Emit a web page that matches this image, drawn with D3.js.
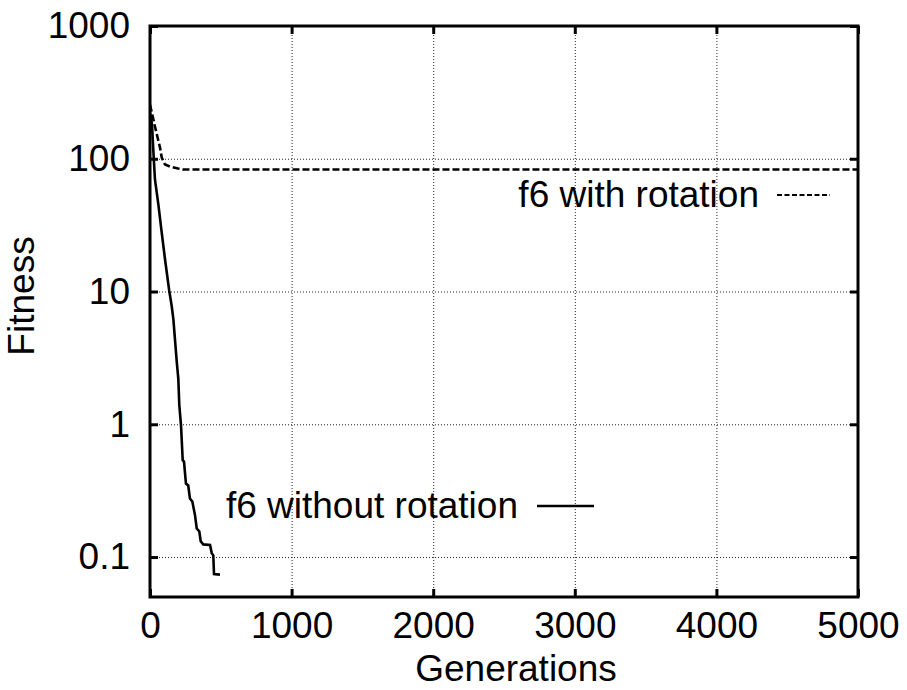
<!DOCTYPE html>
<html>
<head>
<meta charset="utf-8">
<script src="https://cdn.jsdelivr.net/npm/d3@7"></script>
<style>
  body { margin: 0; background: #fff; }
  svg text { font-family: "Liberation Sans", Arial, sans-serif; font-size: 37px; fill: #000; }
  .grid line { stroke: #222; stroke-width: 1; stroke-dasharray: 1,2; }
  .grid path { display: none; }
  .ticks line { stroke: #000; stroke-width: 3; }
  .ticks path { display: none; }
</style>
</head>
<body>
<svg id="chart" width="907" height="690"></svg>
<script>
// tick values
var xTicks = [0, 1000, 2000, 3000, 4000, 5000];
var yTicks = [0.1, 1, 10, 100, 1000];

// f6 without rotation (solid)
var genWithout = [0, 14, 25, 35, 59, 80, 106, 136, 153, 165, 189, 200, 207, 219, 231, 240, 254, 270, 282, 299, 318, 330, 348, 358, 376, 424, 436, 447, 452, 494];
var fitWithout = [222, 181, 108, 69.8, 45.3, 29.4, 17.5, 10.1, 7.81, 6.2, 2.95, 2.2, 1.39, 0.98, 0.536, 0.524, 0.358, 0.346, 0.276, 0.262, 0.206, 0.164, 0.156, 0.1315, 0.1245, 0.1235, 0.107, 0.103, 0.0743, 0.0737];

// f6 with rotation (dashed)
var genWith = [0, 16, 35, 54, 71, 83, 106, 141, 198, 233, 5000];
var fitWith = [255, 215, 175, 144, 121, 102, 90.4, 87.3, 84.5, 83, 83];

var svg = d3.select("#chart");
var margin = { top: 26, left: 150, right: 49, bottom: 93 };
var width = +svg.attr("width") - margin.left - margin.right,
    height = +svg.attr("height") - margin.top - margin.bottom;

var g = svg.append("g")
    .attr("transform", "translate(" + margin.left + "," + margin.top + ")");

var xScale = d3.scaleLinear().domain([0, 5000]).range([0, width]);
var yScale = d3.scaleLog().domain([0.05, 1000]).range([height, 0]);

// clip for curves
g.append("clipPath").attr("id", "clip")
    .append("rect").attr("width", width).attr("height", height);

// grid lines
g.append("g")
    .attr("class", "grid")
    .attr("transform", "translate(0," + height + ")")
    .call(d3.axisBottom(xScale).tickValues(xTicks.slice(1, -1)).tickFormat("").tickSize(-height));
g.append("g")
    .attr("class", "grid")
    .call(d3.axisLeft(yScale).tickValues(yTicks.slice(0, -1)).tickFormat("").tickSize(-width));

// bottom axis with labels, inward ticks
var xAxis = g.append("g")
    .attr("class", "ticks")
    .attr("transform", "translate(0," + height + ")")
    .call(d3.axisBottom(xScale).tickValues(xTicks).tickFormat(d3.format("d"))
        .tickSizeInner(-8).tickSizeOuter(0).tickPadding(15));
xAxis.selectAll("text").attr("fill", "#000");

// left axis
var yAxis = g.append("g")
    .attr("class", "ticks")
    .call(d3.axisLeft(yScale).tickValues(yTicks).tickFormat(function(d) { return String(d); })
        .tickSizeInner(-8).tickSizeOuter(0).tickPadding(20));
yAxis.selectAll("text").attr("fill", "#000");

// mirrored ticks
g.append("g")
    .attr("class", "ticks")
    .call(d3.axisTop(xScale).tickValues(xTicks).tickFormat("").tickSizeInner(-8).tickSizeOuter(0));
g.append("g")
    .attr("class", "ticks")
    .attr("transform", "translate(" + width + ",0)")
    .call(d3.axisRight(yScale).tickValues(yTicks).tickFormat("").tickSizeInner(-8).tickSizeOuter(0));

// curves
var line = d3.line()
    .x(function(d) { return xScale(d[0]); })
    .y(function(d) { return yScale(d[1]); });

g.append("path")
    .datum(d3.zip(genWith, fitWith))
    .attr("clip-path", "url(#clip)")
    .attr("fill", "none")
    .attr("stroke", "#000")
    .attr("stroke-width", 2.6)
    .attr("stroke-dasharray", "7,3")
    .attr("d", line);

g.append("path")
    .datum(d3.zip(genWithout, fitWithout))
    .attr("clip-path", "url(#clip)")
    .attr("fill", "none")
    .attr("stroke", "#000")
    .attr("stroke-width", 2.6)
    .attr("d", line);

// frame
g.append("rect")
    .attr("width", width)
    .attr("height", height)
    .attr("fill", "none")
    .attr("stroke", "#000")
    .attr("stroke-width", 3);

// keys
svg.append("text")
    .attr("x", 759).attr("y", 207)
    .attr("text-anchor", "end")
    .text("f6 with rotation");
svg.append("line")
    .attr("x1", 777).attr("x2", 830).attr("y1", 195).attr("y2", 195)
    .attr("stroke", "#000").attr("stroke-width", 2)
    .attr("stroke-dasharray", "5,2.5");

svg.append("text")
    .attr("x", 518).attr("y", 518)
    .attr("text-anchor", "end")
    .text("f6 without rotation");
svg.append("line")
    .attr("x1", 537).attr("x2", 594).attr("y1", 506).attr("y2", 506)
    .attr("stroke", "#000").attr("stroke-width", 2.5);

// axis titles
svg.append("text")
    .attr("x", margin.left + width / 2 + 12)
    .attr("y", 681)
    .attr("text-anchor", "middle")
    .text("Generations");
svg.append("text")
    .attr("transform", "translate(34,296) rotate(-90)")
    .attr("text-anchor", "middle")
    .text("Fitness");
</script>
</body>
</html>
